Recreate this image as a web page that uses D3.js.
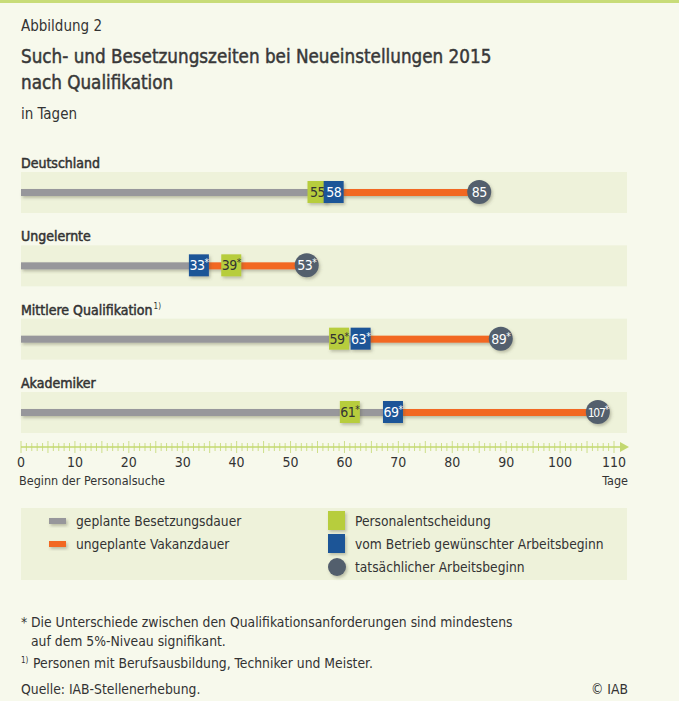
<!DOCTYPE html>
<html>
<head>
<meta charset="utf-8">
<script src="https://cdn.jsdelivr.net/npm/d3@7"></script>
<style>
	html, body { margin: 0; padding: 0; background: #f7f9ec; }
	svg { display: block; font-family: "DejaVu Sans Condensed", "DejaVu Sans", sans-serif; }
</style>
</head>
<body>
<svg id="chart" width="679" height="701"></svg>
<script>

//############
//### data ###
//############
var categories = ["Deutschland", "Ungelernte", "Mittlere Qualifikation", "Akademiker"];
var categoryNotes = ["", "", "1)", ""];
var personalentscheidung = [55, 39, 59, 61];
var gewuenschterBeginn = [58, 33, 63, 69];
var tatsaechlicherBeginn = [85, 53, 89, 107];
var signifikant = [false, true, true, true];
var tickValues = [0, 10, 20, 30, 40, 50, 60, 70, 80, 90, 100, 110];

//#################
//### constants ###
//#################
var colors = {
	background: "#f7f9ec",
	band: "#eef2da",
	grey: "#97979b",
	orange: "#f26722",
	green: "#b7cd3e",
	blue: "#1e5597",
	dark: "#535f6d",
	axis: "#c3d870",
	text: "#333333"
};

var svg = d3.select("#chart");

var x = d3.scaleLinear()
	.domain([0, 110])
	.range([21, 614]);

var rowY = d3.scalePoint()
	.domain(categories)
	.range([192, 412]);

// drop shadow for bars and markers
var defs = svg.append("defs");
var shadow = defs.append("filter")
	.attr("id", "shadow")
	.attr("x", "-30%").attr("y", "-30%")
	.attr("width", "170%").attr("height", "190%");
shadow.append("feDropShadow")
	.attr("dx", 1.5)
	.attr("dy", 2)
	.attr("stdDeviation", 1.5)
	.attr("flood-color", "#5a5a40")
	.attr("flood-opacity", 0.35);

// background + green top border
svg.append("rect")
	.attr("width", 679).attr("height", 701)
	.attr("fill", colors.background);
svg.append("rect")
	.attr("width", 679).attr("height", 3)
	.attr("fill", "#c8dc78");

//##############
//### header ###
//##############
svg.append("text")
	.attr("x", 21).attr("y", 31)
	.attr("font-size", 15)
	.attr("fill", colors.text)
	.text("Abbildung 2");

svg.selectAll("text.title")
	.data(["Such- und Besetzungszeiten bei Neueinstellungen 2015", "nach Qualifikation"])
	.enter()
	.append("text")
		.attr("class", "title")
		.attr("x", 21)
		.attr("y", function(d, i){ return 63 + i * 26; })
		.attr("font-size", 18.7)
		.attr("fill", "#383838")
		.attr("stroke", "#383838")
		.attr("stroke-width", 0.45)
		.text(function(d){ return d; });

svg.append("text")
	.attr("x", 21).attr("y", 119)
	.attr("font-size", 15)
	.attr("fill", colors.text)
	.text("in Tagen");

//############
//### rows ###
//############
var rows = svg.selectAll("g.row")
	.data(categories)
	.enter()
	.append("g")
		.attr("class", "row")
		.attr("transform", function(d){ return "translate(0," + rowY(d) + ")"; });

rows.append("rect")
	.attr("x", x(0))
	.attr("y", -20)
	.attr("width", 606)
	.attr("height", 41)
	.attr("fill", colors.band);

var label = rows.append("text")
	.attr("x", 21)
	.attr("y", -24)
	.attr("font-size", 14)
	.attr("fill", colors.text);
label.append("tspan")
	.attr("stroke", colors.text)
	.attr("stroke-width", 0.5)
	.text(function(d){ return d; });
label.append("tspan")
	.attr("dx", 1)
	.attr("dy", -6)
	.attr("font-size", 8)
	.text(function(d, i){ return categoryNotes[i]; });

// geplante Besetzungsdauer (grey) and ungeplante Vakanzdauer (orange)
rows.append("rect")
	.attr("x", x(0))
	.attr("y", -3)
	.attr("width", function(d, i){ return x(gewuenschterBeginn[i]) - x(0); })
	.attr("height", 7)
	.attr("fill", colors.grey)
	.attr("filter", "url(#shadow)");

rows.append("rect")
	.attr("x", function(d, i){ return x(gewuenschterBeginn[i]); })
	.attr("y", -3)
	.attr("width", function(d, i){ return x(tatsaechlicherBeginn[i]) - x(gewuenschterBeginn[i]); })
	.attr("height", 7)
	.attr("fill", colors.orange)
	.attr("filter", "url(#shadow)");

// marker with value label, star as superscript
var addMarker = function(values, shape, fill, textColor){

	var marker = rows.append("g")
		.attr("transform", function(d, i){ return "translate(" + x(values[i]) + ",0)"; });

	if(shape == "circle"){
		marker.append("circle")
			.attr("r", 12)
			.attr("fill", fill)
			.attr("filter", "url(#shadow)");
	}else{
		marker.append("rect")
			.attr("x", -10).attr("y", -11)
			.attr("width", 20).attr("height", 22)
			.attr("fill", fill)
			.attr("filter", "url(#shadow)");
	}

	var t = marker.append("text")
		.attr("text-anchor", "middle")
		.attr("y", 5)
		.attr("font-size", function(d, i){ return values[i] >= 100 ? 12 : 14; })
		.attr("letter-spacing", function(d, i){ return values[i] >= 100 ? -1.2 : -0.5; })
		.attr("fill", textColor);
	t.append("tspan")
		.text(function(d, i){ return values[i]; });
	t.append("tspan")
		.attr("dy", -4)
		.attr("font-size", 10)
		.text(function(d, i){ return signifikant[i] ? "*" : ""; });
};

addMarker(personalentscheidung, "square", colors.green, "#333333");
addMarker(gewuenschterBeginn, "square", colors.blue, "#ffffff");
addMarker(tatsaechlicherBeginn, "circle", colors.dark, "#ffffff");

//############
//### axis ###
//############
var axisY = 447;
var axisG = svg.append("g")
	.attr("transform", "translate(0," + axisY + ")");

axisG.append("line")
	.attr("x1", x(0)).attr("x2", 622)
	.attr("stroke", colors.axis)
	.attr("stroke-width", 1.5);

axisG.append("path")
	.attr("d", "M620,-5 L629,0 L620,5 Z")
	.attr("fill", colors.axis);

axisG.selectAll("line.tick")
	.data(d3.range(0, 111))
	.enter()
	.append("line")
		.attr("class", "tick")
		.attr("x1", function(d){ return x(d); })
		.attr("x2", function(d){ return x(d); })
		.attr("y1", function(d){ return d % 5 == 0 ? -6 : -4; })
		.attr("y2", function(d){ return d % 5 == 0 ? 6 : 4; })
		.attr("stroke", colors.axis)
		.attr("stroke-width", 0.8);

axisG.selectAll("text.tickLabel")
	.data(tickValues)
	.enter()
	.append("text")
		.attr("class", "tickLabel")
		.attr("x", function(d){ return x(d); })
		.attr("y", 20)
		.attr("text-anchor", "middle")
		.attr("font-size", 14)
		.attr("fill", colors.text)
		.text(function(d){ return d; });

axisG.append("text")
	.attr("x", 19).attr("y", 38)
	.attr("font-size", 12.5)
	.attr("fill", colors.text)
	.text("Beginn der Personalsuche");

axisG.append("text")
	.attr("x", 628).attr("y", 38)
	.attr("text-anchor", "end")
	.attr("font-size", 12.5)
	.attr("fill", colors.text)
	.text("Tage");

//##############
//### legend ###
//##############
var legend = svg.append("g");

legend.append("rect")
	.attr("x", 21).attr("y", 508)
	.attr("width", 606).attr("height", 72)
	.attr("fill", colors.band);

var lineItems = [["geplante Besetzungsdauer", colors.grey], ["ungeplante Vakanzdauer", colors.orange]];
lineItems.forEach(function(item, i){
	var yy = 521 + i * 23;
	legend.append("rect")
		.attr("x", 49).attr("y", yy - 3)
		.attr("width", 17).attr("height", 6)
		.attr("fill", item[1])
		.attr("filter", "url(#shadow)");
	legend.append("text")
		.attr("x", 76).attr("y", yy + 5)
		.attr("font-size", 13.7)
		.attr("fill", colors.text)
		.text(item[0]);
});

var markerItems = [["Personalentscheidung", colors.green, "square"], ["vom Betrieb gewünschter Arbeitsbeginn", colors.blue, "square"], ["tatsächlicher Arbeitsbeginn", colors.dark, "circle"]];
markerItems.forEach(function(item, i){
	var yy = 521 + i * 23;
	if(item[2] == "circle"){
		legend.append("circle")
			.attr("cx", 337).attr("cy", yy)
			.attr("r", 9)
			.attr("fill", item[1])
			.attr("filter", "url(#shadow)");
	}else{
		legend.append("rect")
			.attr("x", 328).attr("y", yy - 10)
			.attr("width", 17).attr("height", 19)
			.attr("fill", item[1])
			.attr("filter", "url(#shadow)");
	}
	legend.append("text")
		.attr("x", 355).attr("y", yy + 5)
		.attr("font-size", 13.7)
		.attr("fill", colors.text)
		.text(item[0]);
});

//#################
//### footnotes ###
//#################
var notes = [
	[21, 627, "*"],
	[31, 627, "Die Unterschiede zwischen den Qualifikationsanforderungen sind mindestens"],
	[31, 646, "auf dem 5%-Niveau signifikant."],
	[33, 668, "Personen mit Berufsausbildung, Techniker und Meister."],
	[21, 694, "Quelle: IAB-Stellenerhebung."]
];
notes.forEach(function(n){
	svg.append("text")
		.attr("x", n[0]).attr("y", n[1])
		.attr("font-size", 13.8)
		.attr("fill", colors.text)
		.text(n[2]);
});

svg.append("text")
	.attr("x", 21).attr("y", 663)
	.attr("font-size", 8)
	.attr("fill", colors.text)
	.text("1)");

svg.append("text")
	.attr("x", 628).attr("y", 694)
	.attr("text-anchor", "end")
	.attr("font-size", 13.8)
	.attr("fill", colors.text)
	.text("© IAB");

</script>
</body>
</html>
